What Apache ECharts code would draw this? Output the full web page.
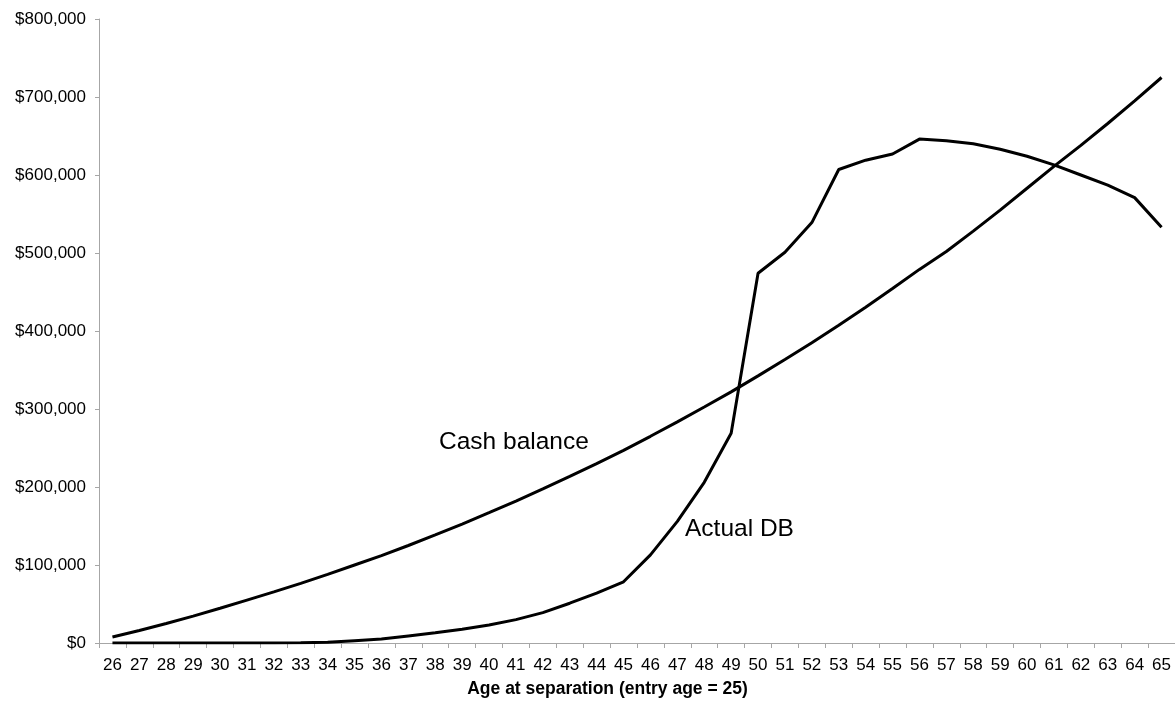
<!DOCTYPE html>
<html>
<head>
<meta charset="utf-8">
<script src="https://cdn.jsdelivr.net/npm/echarts@6/dist/echarts.min.js"></script>
<style>
html,body{margin:0;padding:0;background:#fff;}
#chart{width:1175px;height:703px;}
</style>
</head>
<body>
<div id="chart"></div>
<script>
const ages = [26,27,28,29,30,31,32,33,34,35,36,37,38,39,40,41,42,43,44,45,46,47,48,49,50,51,52,53,54,55,56,57,58,59,60,61,62,63,64,65];
const cashBalance = [7600,16000,25000,34500,44500,55000,65500,76500,88000,100000,112000,125000,138500,152500,167000,182000,197500,213500,230000,247000,265000,283500,302500,322000,342500,363500,385000,407500,430500,454500,479000,502000,528000,555000,583000,611000,638000,666000,695000,725000];
const actualDB = [0,0,0,0,0,0,0,200,1000,3000,5000,9000,13000,17500,23000,30000,39000,51000,64000,78500,113000,156000,206000,269000,474000,501000,539000,607000,619000,627000,646000,644000,640000,633000,624000,613000,600000,587000,571000,533000];
const yTicks = {min:0, max:800000, interval:100000};
const seriesNames = ['Cash balance','Actual DB'];
const axisTitle = 'Age at separation (entry age = 25)';

const chart = echarts.init(document.getElementById('chart'), null, {renderer:'canvas'});
const font = 'Liberation Sans, Arial, sans-serif';
chart.setOption({
  animation:false,
  backgroundColor:'#fff',
  grid:{left:99, right:0, top:19, bottom:60, containLabel:false},
  xAxis:{
    type:'category',
    data:ages.map(String),
    boundaryGap:true,
    axisLine:{lineStyle:{color:'#a6a6a6', width:1}},
    axisTick:{show:true, alignWithLabel:false, length:5, lineStyle:{color:'#a6a6a6'}},
    axisLabel:{interval:0, color:'#000', fontSize:17, fontFamily:font, margin:14},
    splitLine:{show:false}
  },
  yAxis:{
    type:'value',
    min:yTicks.min, max:yTicks.max, interval:yTicks.interval,
    axisLine:{show:true, lineStyle:{color:'#a6a6a6', width:1}},
    axisTick:{show:true, length:4, lineStyle:{color:'#a6a6a6'}},
    axisLabel:{color:'#000', fontSize:17, fontFamily:font, margin:13,
      formatter:v=>'$'+v.toLocaleString('en-US')},
    splitLine:{show:false}
  },
  graphic:[
    {type:'text', left:'center', style:{text:axisTitle, x:0, y:0, font:'bold 17.5px '+font, fill:'#000', textAlign:'center', textVerticalAlign:'middle'}, position:[607.5,689.5], left:null},
    {type:'text', style:{text:seriesNames[0], font:'24.5px '+font, fill:'#000', textAlign:'left', textVerticalAlign:'middle'}, position:[439,442]},
    {type:'text', style:{text:seriesNames[1], font:'24.5px '+font, fill:'#000', textAlign:'left', textVerticalAlign:'middle'}, position:[685,529]}
  ],
  series:[
    {name:seriesNames[0], type:'line', data:cashBalance, symbol:'none', smooth:false,
      lineStyle:{color:'#000', width:3}},
    {name:seriesNames[1], type:'line', data:actualDB, symbol:'none', smooth:false,
      lineStyle:{color:'#000', width:3}}
  ]
});
</script>
</body>
</html>
